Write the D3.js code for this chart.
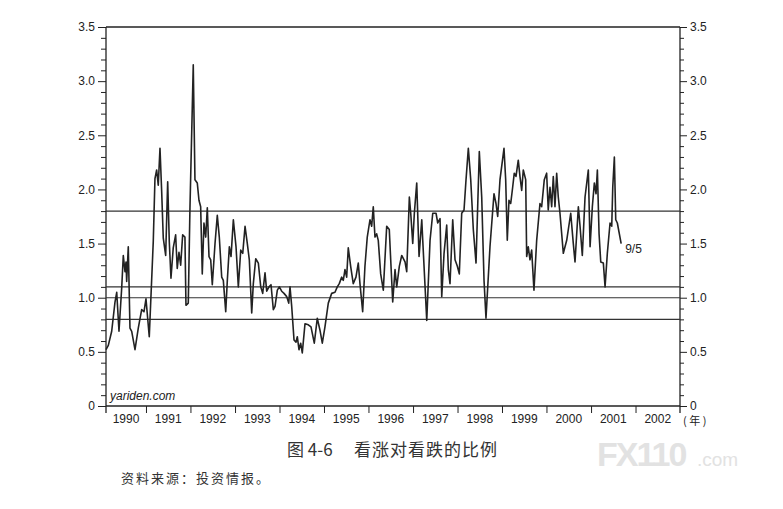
<!DOCTYPE html>
<html>
<head>
<meta charset="utf-8">
<script src="https://cdn.jsdelivr.net/npm/d3@7"></script>
<style>
    body { margin: 0; background: #fff; }
    svg { display: block; }
</style>
</head>
<body>
<div id="chart"></div>
<script>
// bull/bear ratio (decimal year, ratio)
var years = [
    1990.101, 1990.153, 1990.229, 1990.303, 1990.342, 1990.393, 1990.454, 1990.490, 1990.528, 1990.551,
    1990.566, 1990.602, 1990.640, 1990.679, 1990.753, 1990.827, 1990.903, 1990.955, 1991.000, 1991.074,
    1991.164, 1991.202, 1991.240, 1991.276, 1991.315, 1991.353, 1991.389, 1991.443, 1991.488, 1991.524,
    1991.562, 1991.613, 1991.667, 1991.703, 1991.742, 1991.780, 1991.825, 1991.876, 1991.899, 1991.951,
    1991.989, 1992.063, 1992.101, 1992.153, 1992.191, 1992.229, 1992.265, 1992.303, 1992.342, 1992.378,
    1992.416, 1992.454, 1992.490, 1992.551, 1992.602, 1992.647, 1992.701, 1992.737, 1992.791, 1992.827,
    1992.872, 1992.910, 1992.962, 1993.022, 1993.074, 1993.128, 1993.173, 1993.225, 1993.276, 1993.321,
    1993.375, 1993.411, 1993.465, 1993.524, 1993.578, 1993.622, 1993.674, 1993.712, 1993.764, 1993.809,
    1993.861, 1993.899, 1993.951, 1993.996, 1994.049, 1994.101, 1994.162, 1994.207, 1994.236, 1994.274,
    1994.326, 1994.371, 1994.400, 1994.438, 1994.476, 1994.512, 1994.573, 1994.647, 1994.708, 1994.782,
    1994.849, 1994.910, 1994.962, 1995.022, 1995.097, 1995.173, 1995.247, 1995.299, 1995.344, 1995.398,
    1995.434, 1995.472, 1995.510, 1995.546, 1995.600, 1995.658, 1995.719, 1995.771, 1995.809, 1995.870,
    1995.921, 1995.973, 1996.034, 1996.072, 1996.108, 1996.146, 1996.184, 1996.220, 1996.274, 1996.333,
    1996.409, 1996.467, 1996.499, 1996.544, 1996.596, 1996.634, 1996.692, 1996.746, 1996.820, 1996.858,
    1996.917, 1996.948, 1996.993, 1997.029, 1997.083, 1997.135, 1997.196, 1997.218, 1997.308, 1997.382,
    1997.443, 1997.517, 1997.555, 1997.607, 1997.645, 1997.697, 1997.757, 1997.793, 1997.831, 1997.892,
    1997.944, 1997.996, 1998.040, 1998.094, 1998.146, 1998.191, 1998.243, 1998.297, 1998.355, 1998.416,
    1998.490, 1998.544, 1998.596, 1998.640, 1998.730, 1998.820, 1998.865, 1998.903, 1998.955, 1999.045,
    1999.083, 1999.119, 1999.157, 1999.196, 1999.240, 1999.276, 1999.315, 1999.366, 1999.404, 1999.443,
    1999.479, 1999.533, 1999.555, 1999.591, 1999.629, 1999.667, 1999.719, 1999.780, 1999.854, 1999.892,
    1999.951, 2000.004, 2000.040, 2000.079, 2000.117, 2000.153, 2000.191, 2000.229, 2000.265, 2000.303,
    2000.378, 2000.454, 2000.544, 2000.602, 2000.640, 2000.715, 2000.753, 2000.804, 2000.865, 2000.939,
    2000.978, 2001.029, 2001.074, 2001.112, 2001.142, 2001.180, 2001.218, 2001.276, 2001.315, 2001.366,
    2001.427, 2001.465, 2001.488, 2001.524, 2001.555, 2001.591, 2001.677
];
var ratios = [
    0.52, 0.56, 0.69, 0.96, 1.05, 0.69, 1.09, 1.39, 1.24, 1.33,
    1.15, 1.47, 0.72, 0.69, 0.52, 0.72, 0.89, 0.87, 0.99, 0.64,
    1.52, 2.10, 2.18, 2.04, 2.38, 1.98, 1.55, 1.39, 2.07, 1.52,
    1.18, 1.46, 1.58, 1.27, 1.42, 1.30, 1.58, 1.56, 0.93, 0.95,
    1.83, 3.15, 2.09, 2.06, 1.90, 1.84, 1.22, 1.69, 1.56, 1.83,
    1.38, 1.35, 1.12, 1.50, 1.76, 1.56, 1.19, 1.16, 0.87, 1.16,
    1.47, 1.38, 1.72, 1.47, 1.10, 1.44, 1.41, 1.66, 1.50, 1.35,
    0.86, 1.13, 1.36, 1.32, 1.10, 1.04, 1.23, 1.06, 1.10, 1.12,
    0.89, 0.92, 1.07, 1.10, 1.06, 1.04, 1.01, 0.95, 1.10, 0.92,
    0.61, 0.59, 0.64, 0.52, 0.58, 0.49, 0.76, 0.75, 0.73, 0.58,
    0.81, 0.70, 0.58, 0.73, 0.95, 1.04, 1.05, 1.10, 1.13, 1.19,
    1.16, 1.26, 1.19, 1.46, 1.29, 1.13, 1.19, 1.32, 1.13, 0.87,
    1.29, 1.56, 1.72, 1.66, 1.84, 1.56, 1.59, 1.53, 1.22, 1.07,
    1.66, 1.63, 1.35, 0.96, 1.26, 1.10, 1.29, 1.39, 1.33, 1.24,
    1.93, 1.78, 1.50, 1.78, 2.06, 1.38, 1.72, 1.53, 0.79, 1.53,
    1.78, 1.78, 1.69, 1.73, 1.01, 1.41, 1.67, 1.26, 1.13, 1.72,
    1.35, 1.29, 1.22, 1.78, 1.81, 2.09, 2.38, 2.09, 1.63, 1.32,
    2.35, 1.93, 1.16, 0.81, 1.47, 1.96, 1.87, 1.75, 2.09, 2.38,
    2.09, 1.53, 1.90, 1.87, 2.02, 2.15, 2.12, 2.27, 2.12, 1.99,
    2.18, 2.09, 1.38, 1.47, 1.35, 1.44, 1.07, 1.53, 1.87, 1.84,
    2.09, 2.15, 1.81, 2.02, 1.84, 2.12, 1.84, 2.15, 1.93, 1.78,
    1.41, 1.53, 1.78, 1.50, 1.33, 1.84, 1.66, 1.39, 1.93, 2.18,
    1.47, 1.84, 2.06, 1.96, 2.18, 1.59, 1.33, 1.32, 1.10, 1.41,
    1.69, 1.66, 2.02, 2.30, 1.72, 1.69, 1.50
];
var guides = [0.8, 1.0, 1.1, 1.8];
var yMajor = [0, 0.5, 1.0, 1.5, 2.0, 2.5, 3.0, 3.5];
var yearLabels = ['1990', '1991', '1992', '1993', '1994', '1995', '1996',
                  '1997', '1998', '1999', '2000', '2001', '2002'];
var lastLabel = '9/5';

var W = 783, H = 509;
var plot = { left: 106, right: 680, top: 27, bottom: 406 };

function toDate(yv) {
    var yr = Math.floor(yv);
    var start = new Date(yr, 0, 1).getTime();
    var end = new Date(yr + 1, 0, 1).getTime();
    return new Date(start + (yv - yr) * (end - start));
}

var data = years.map((d, i) => [toDate(d), ratios[i]]);

var x = d3.scaleTime()
    .domain([toDate(1990.101), new Date(2003, 0, 1)])
    .range([plot.left, plot.right]);
var y = d3.scaleLinear().domain([0, 3.5]).range([plot.bottom, plot.top]);

var svg = d3.select('#chart').append('svg')
    .attr('width', W)
    .attr('height', H);

var ink = '#222';
var sans = '"Liberation Sans", Arial, sans-serif';
var cjk = '"Noto Sans CJK SC", sans-serif';
var fmt = d => (d === 0 ? '0' : d.toFixed(1));
var minorVals = d3.range(0, 36).map(d => d / 10).filter(d => Math.round(d * 10) % 5 !== 0);

// left axis: minor then major
svg.append('g')
    .attr('transform', `translate(${plot.left},0)`)
    .call(d3.axisLeft(y).tickValues(minorVals).tickSize(5).tickSizeOuter(0).tickFormat(''))
    .call(g => g.select('.domain').remove());
svg.append('g')
    .attr('transform', `translate(${plot.left},0)`)
    .call(d3.axisLeft(y).tickValues(yMajor).tickSize(8).tickPadding(3).tickSizeOuter(0).tickFormat(fmt))
    .call(g => g.select('.domain').remove());

// right axis
svg.append('g')
    .attr('transform', `translate(${plot.right},0)`)
    .call(d3.axisRight(y).tickValues(minorVals).tickSize(4).tickSizeOuter(0).tickFormat(''))
    .call(g => g.select('.domain').remove());
svg.append('g')
    .attr('transform', `translate(${plot.right},0)`)
    .call(d3.axisRight(y).tickValues(yMajor).tickSize(7).tickPadding(3).tickSizeOuter(0).tickFormat(fmt))
    .call(g => g.select('.domain').remove());

// bottom axis: ticks on year boundaries
var bounds = d3.timeYear.range(new Date(1991, 0, 1), new Date(2003, 0, 1));
svg.append('g')
    .attr('transform', `translate(0,${plot.bottom})`)
    .call(d3.axisBottom(x).tickValues(bounds).tickSize(7).tickSizeOuter(0).tickFormat(''))
    .call(g => g.select('.domain').remove());

svg.selectAll('.yr')
    .data(yearLabels)
    .enter()
    .append('text')
    .attr('class', 'yr')
    .attr('x', d => {
        var a = Math.max(x(new Date(+d, 0, 1)), plot.left);
        var b = x(new Date(+d + 1, 0, 1));
        return (a + b) / 2;
    })
    .attr('y', 423)
    .attr('text-anchor', 'middle')
    .text(d => d);

svg.selectAll('.tick text, .yr')
    .attr('font-size', null)
    .attr('font-family', null)
    .style('font-family', sans)
    .style('font-size', '12px')
    .attr('fill', ink);
svg.selectAll('.tick line').attr('stroke', ink);

svg.append('text')
    .attr('x', plot.right + 3)
    .attr('y', 425)
    .style('font-family', cjk)
    .style('font-size', '11px')
    .attr('fill', ink)
    .attr('xml:space', 'preserve')
    .text('( 年 )');

// frame
var frame = svg.append('g').attr('stroke', ink).attr('stroke-width', 1.3);
frame.append('line').attr('x1', plot.left).attr('x2', plot.left).attr('y1', plot.top).attr('y2', plot.bottom + 7);
frame.append('line').attr('x1', plot.right).attr('x2', plot.right).attr('y1', plot.top).attr('y2', plot.bottom + 7);
frame.append('line').attr('x1', plot.left).attr('x2', plot.right).attr('y1', plot.top).attr('y2', plot.top);
frame.append('line').attr('x1', plot.left).attr('x2', plot.right).attr('y1', plot.bottom).attr('y2', plot.bottom);

svg.append('g')
    .selectAll('line')
    .data(guides)
    .enter()
    .append('line')
    .attr('x1', plot.left)
    .attr('x2', plot.right)
    .attr('y1', d => y(d))
    .attr('y2', d => y(d))
    .attr('stroke', '#333')
    .attr('stroke-width', 1.1);

var line = d3.line()
    .x(d => x(d[0]))
    .y(d => y(d[1]));

svg.append('path')
    .datum(data)
    .attr('fill', 'none')
    .attr('stroke', ink)
    .attr('stroke-width', 1.6)
    .attr('stroke-linejoin', 'round')
    .attr('d', line);

var last = data[data.length - 1];
svg.append('text')
    .attr('x', x(last[0]) + 4)
    .attr('y', y(last[1]) + 9)
    .style('font-family', sans)
    .style('font-size', '12px')
    .attr('fill', ink)
    .text(lastLabel);

svg.append('text')
    .attr('x', plot.left + 4)
    .attr('y', 400)
    .style('font-family', sans)
    .style('font-size', '12px')
    .style('font-style', 'italic')
    .attr('fill', ink)
    .text('yariden.com');

// caption
svg.append('text')
    .attr('x', 287)
    .attr('y', 456)
    .style('font-family', cjk)
    .style('font-size', '17px')
    .attr('fill', '#333')
    .text('图 4-6');
svg.append('text')
    .attr('x', 354)
    .attr('y', 456)
    .style('font-family', cjk)
    .style('font-size', '17px')
    .style('letter-spacing', '1px')
    .attr('fill', '#333')
    .text('看涨对看跌的比例');
svg.append('text')
    .attr('x', 121)
    .attr('y', 483)
    .style('font-family', cjk)
    .style('font-size', '13px')
    .style('letter-spacing', '2px')
    .attr('fill', '#333')
    .text('资料来源：投资情报。');

// scan watermark
svg.append('text')
    .attr('x', 597)
    .attr('y', 466)
    .style('font-family', sans)
    .style('font-size', '34px')
    .style('font-weight', 'bold')
    .style('letter-spacing', '-2px')
    .attr('fill', '#e2e2e2')
    .text('FX110');
svg.append('text')
    .attr('x', 697)
    .attr('y', 466)
    .style('font-family', sans)
    .style('font-size', '19px')
    .attr('fill', '#e2e2e2')
    .text('.com');
</script>
</body>
</html>
